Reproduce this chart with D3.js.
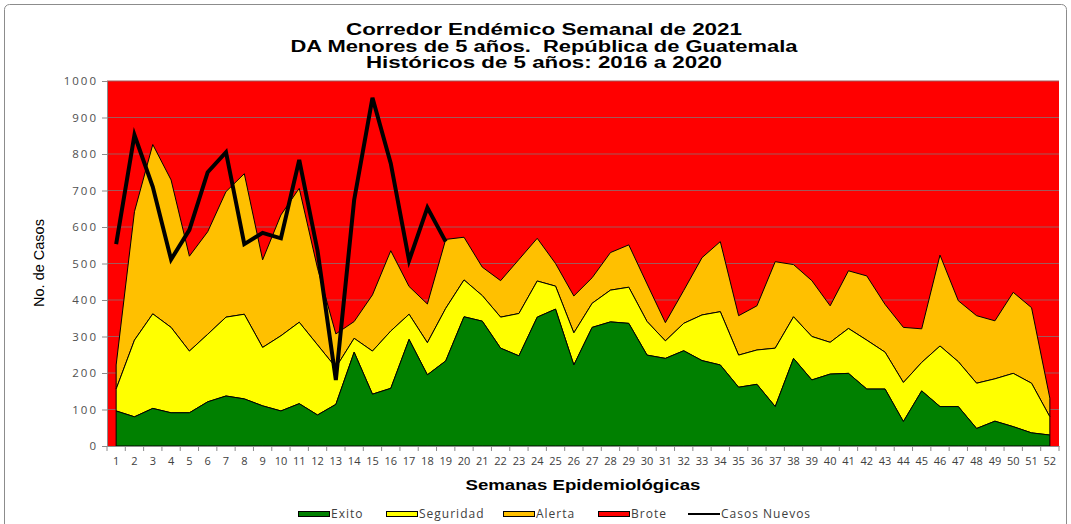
<!DOCTYPE html>
<html lang="es">
<head>
<meta charset="UTF-8">
<title>Corredor Endémico</title>
<script src="https://cdn.jsdelivr.net/npm/d3@7"></script>
<style>
  body { margin: 0; background: #fff; }
  svg { display: block; }
</style>
</head>
<body>
<script>
// semanas epidemiológicas (categorías del eje x)
var semanas = ['1','2','3','4','5','6','7','8','9','10','11','12','13','14','15','16','17','18','19','20',
  '21','22','23','24','25','26','27','28','29','30','31','32','33','34','35','36','37','38','39','40',
  '41','42','43','44','45','46','47','48','49','50','51','52'];

// límites del corredor (valores acumulados)
var exito = [96,80,103,91,91,121,137,129,110,96,116,85,114,257,142,158,292,195,233,354,
  342,268,247,353,375,222,325,340,336,249,240,261,234,222,161,169,108,240,181,197,
  199,156,156,67,151,108,108,48,68,53,36,30];
var seguridad = [156,290,362,325,260,306,353,361,270,302,339,277,215,295,260,315,361,283,377,455,
  412,353,363,452,438,310,391,427,435,341,288,336,359,368,249,263,268,354,300,284,
  322,290,257,174,229,274,231,172,184,199,172,80];
var alerta = [222,642,826,729,520,587,697,746,510,633,706,487,307,341,414,535,437,389,566,572,
  490,453,511,569,500,411,461,530,551,444,338,426,516,560,357,384,505,497,453,384,
  480,466,388,325,321,523,398,357,343,421,379,131];
// casos nuevos 2021 (semanas 1 a 19)
var casosNuevos = [553,852,710,511,592,750,805,553,584,569,784,535,181,674,954,774,508,653,560];

var yTicks = [0,100,200,300,400,500,600,700,800,900,1000];

var W = 1071, H = 524;
var margin = {top: 81, right: 12, bottom: 78, left: 107};
var width = W - margin.left - margin.right;
var height = H - margin.top - margin.bottom;

var svg = d3.select('body').append('svg')
  .attr('width', W)
  .attr('height', H);

// marco del gráfico
svg.append('rect')
  .attr('x', 4.5).attr('y', 4.5)
  .attr('width', W - 9).attr('height', H + 20)
  .attr('rx', 5)
  .style('fill', 'none')
  .style('stroke', '#8c8c8c');

var g = svg.append('g')
  .attr('transform', `translate(${margin.left}, ${margin.top})`);

var xScale = d3.scaleBand().domain(semanas).range([0, width]);
var yScale = d3.scaleLinear().domain([0, 1000]).range([height, 0]);
var cx = d => xScale(d) + xScale.bandwidth() / 2;

// fondo rojo (Brote)
g.append('rect')
  .attr('width', width)
  .attr('height', height)
  .style('fill', '#ff0000');

// líneas de cuadrícula
g.selectAll('.grid')
  .data(yTicks.slice(1))
  .enter().append('line')
  .attr('x1', 0).attr('x2', width)
  .attr('y1', d => yScale(d)).attr('y2', d => yScale(d))
  .style('stroke', '#a05a5a')
  .style('stroke-width', 1);

var data = semanas.map((s, i) => ({s: s, e: exito[i], g: seguridad[i], a: alerta[i]}));

function banda(lo, hi, color) {
  var area = d3.area()
    .x(d => cx(d.s))
    .y0(d => yScale(lo(d)))
    .y1(d => yScale(hi(d)));
  g.append('path')
    .datum(data)
    .attr('d', area)
    .style('fill', color)
    .style('stroke', '#000')
    .style('stroke-width', 1)
    .style('stroke-linejoin', 'round');
}

banda(d => d.g, d => d.a, '#ffc000');
banda(d => d.e, d => d.g, '#ffff00');
banda(d => 0, d => d.e, '#008000');

// casos nuevos
var linea = d3.line()
  .x((d, i) => cx(semanas[i]))
  .y(d => yScale(d));

g.append('path')
  .datum(casosNuevos)
  .attr('d', linea)
  .style('fill', 'none')
  .style('stroke', '#000')
  .style('stroke-width', 4)
  .style('stroke-linejoin', 'miter');

// eje y
var yAxis = g.append('g')
  .call(d3.axisLeft(yScale).tickValues(yTicks).tickFormat(d3.format('d')).tickSize(5).tickPadding(4));
yAxis.select('.domain').style('stroke', '#8c8c8c');
yAxis.selectAll('.tick line').style('stroke', '#8c8c8c');
yAxis.selectAll('.tick text')
  .style('font-family', '"Open Sans", sans-serif')
  .style('font-size', '11.5px')
  .style('letter-spacing', '2px')
  .style('fill', '#505050');

// eje x
var xAxis = g.append('g')
  .attr('transform', `translate(0, ${height})`)
  .call(d3.axisBottom(xScale).tickSize(0).tickPadding(11));
xAxis.select('.domain').style('stroke', '#8c8c8c');
xAxis.selectAll('.tick text')
  .style('font-family', '"Open Sans", sans-serif')
  .style('font-size', '11px')
  .style('fill', '#404040');

g.append('g')
  .selectAll('line')
  .data(semanas.concat(['fin']))
  .enter().append('line')
  .attr('x1', (d, i) => i < semanas.length ? xScale(d) : width)
  .attr('x2', (d, i) => i < semanas.length ? xScale(d) : width)
  .attr('y1', height).attr('y2', height + 5)
  .style('stroke', '#8c8c8c');

// títulos
var titulos = [
  {t: 'Corredor Endémico Semanal de 2021', y: 35, w: 396},
  {t: 'DA Menores de 5 años.  República de Guatemala', y: 51.5, w: 507},
  {t: 'Históricos de 5 años: 2016 a 2020', y: 68, w: 356}
];
svg.selectAll('.titulo')
  .data(titulos)
  .enter().append('text')
  .attr('class', 'titulo')
  .attr('x', 544)
  .attr('y', d => d.y)
  .attr('text-anchor', 'middle')
  .attr('textLength', d => d.w)
  .attr('lengthAdjust', 'spacingAndGlyphs')
  .style('font-family', '"Liberation Sans", Arial, sans-serif')
  .style('font-weight', 'bold')
  .style('font-size', '16px')
  .style('white-space', 'pre')
  .text(d => d.t);

svg.append('text')
  .text('Semanas Epidemiológicas')
  .attr('x', margin.left + width / 2)
  .attr('y', 490)
  .attr('text-anchor', 'middle')
  .attr('textLength', 235)
  .attr('lengthAdjust', 'spacingAndGlyphs')
  .style('font-family', '"Liberation Sans", Arial, sans-serif')
  .style('font-weight', 'bold')
  .style('font-size', '15px');

svg.append('text')
  .text('No. de Casos')
  .attr('transform', 'translate(44, 263) rotate(-90)')
  .attr('text-anchor', 'middle')
  .style('font-family', '"Liberation Sans", Arial, sans-serif')
  .style('font-size', '14.5px');

// leyenda
var leyenda = [
  {n: 'Exito', c: '#008000', x: 298},
  {n: 'Seguridad', c: '#ffff00', x: 386},
  {n: 'Alerta', c: '#ffc000', x: 503},
  {n: 'Brote', c: '#ff0000', x: 598},
  {n: 'Casos Nuevos', c: null, x: 688}
];
var ley = svg.selectAll('.legend')
  .data(leyenda)
  .enter().append('g')
  .attr('class', 'legend')
  .attr('transform', d => `translate(${d.x}, 514)`);

ley.filter(d => d.c).append('rect')
  .attr('x', 0.5).attr('y', -2.5)
  .attr('width', 31).attr('height', 5)
  .style('fill', d => d.c)
  .style('stroke', '#000')
  .style('stroke-width', 1);

ley.filter(d => !d.c).append('line')
  .attr('x1', 0).attr('x2', 32)
  .style('stroke', '#000')
  .style('stroke-width', 2);

ley.append('text')
  .text(d => d.n)
  .attr('x', 33)
  .attr('y', 4)
  .style('font-family', '"Open Sans", sans-serif')
  .style('font-size', '12px')
  .style('letter-spacing', '1px')
  .style('fill', '#404040');
</script>
</body>
</html>
